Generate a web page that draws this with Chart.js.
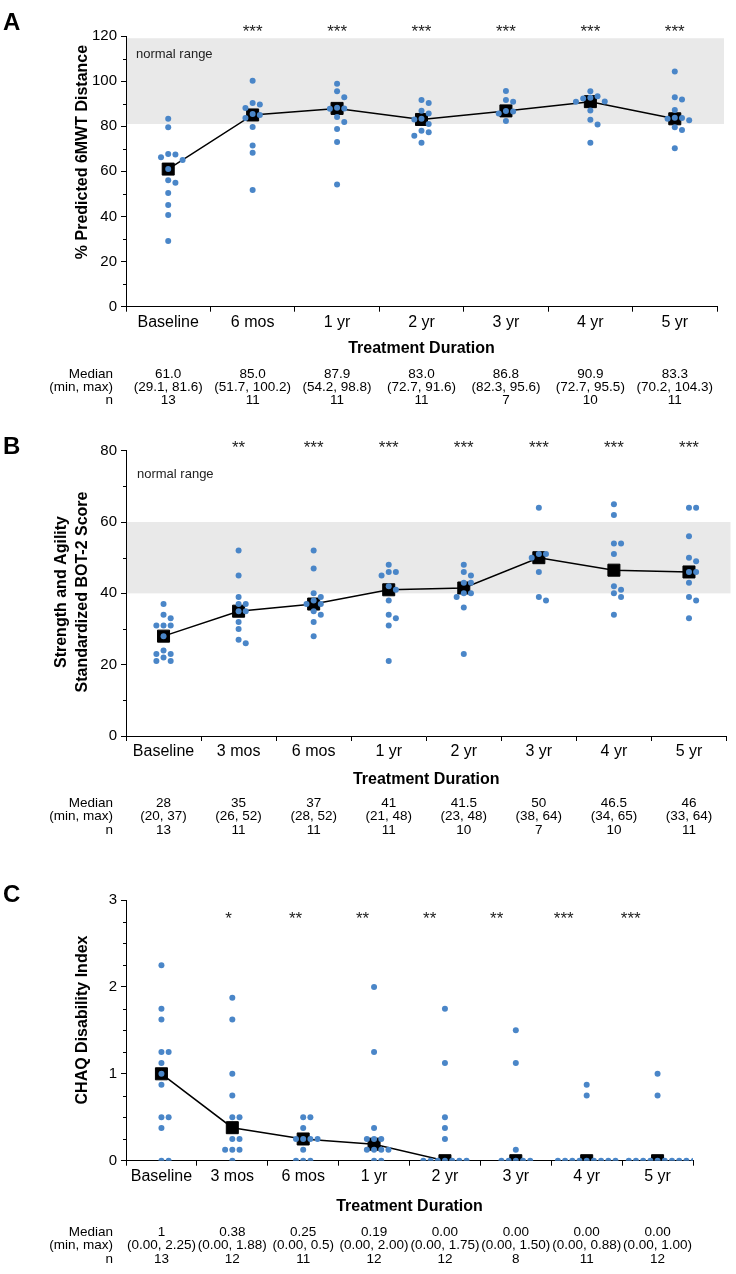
<!DOCTYPE html>
<html>
<head>
<meta charset="utf-8">
<script src="https://cdn.jsdelivr.net/npm/chart.js@4.4.1/dist/chart.umd.min.js"></script>
<style>
html,body{margin:0;padding:0;background:#fff;}
#wrap{position:relative;width:736px;height:1274px;overflow:hidden;background:#fff;}
canvas{position:absolute;left:0;}
</style>
</head>
<body>
<div id="wrap">
<canvas id="cA" width="736" height="420" style="top:0px"></canvas>
<canvas id="cB" width="736" height="430" style="top:420px"></canvas>
<canvas id="cC" width="736" height="424" style="top:850px"></canvas>
</div>
<script>
// ---------------- Panel A data ----------------
const catsA = ['Baseline', '6 mos', '1 yr', '2 yr', '3 yr', '4 yr', '5 yr'];
const aBaseline = [83.3, 79.5, 67.7, 67.5, 66.2, 65.0, 61.0, 56.0, 55.0, 50.4, 45.1, 40.6, 29.1];
const a6mos = [100.2, 90.3, 89.6, 88.1, 85.4, 85.0, 83.6, 79.7, 71.5, 68.3, 51.7];
const a1yr = [98.8, 95.5, 92.8, 88.2, 87.9, 87.8, 84.1, 81.9, 78.8, 73.0, 54.2];
const a2yr = [91.6, 90.3, 86.9, 85.7, 83.3, 83.0, 81.0, 78.0, 77.3, 75.8, 72.7];
const a3yr = [95.6, 91.6, 90.9, 86.8, 86.5, 85.7, 82.3];
const a4yr = [95.5, 93.3, 92.6, 92.3, 91.0, 90.8, 87.0, 82.9, 80.8, 72.7];
const a5yr = [104.3, 92.8, 91.9, 87.2, 83.8, 83.6, 83.3, 82.6, 79.5, 78.3, 70.2];
const starsA = ['', '***', '***', '***', '***', '***', '***'];
const medianTextA = ['61.0', '85.0', '87.9', '83.0', '86.8', '90.9', '83.3'];
const rangeTextA = ['(29.1, 81.6)', '(51.7, 100.2)', '(54.2, 98.8)', '(72.7, 91.6)', '(82.3, 95.6)', '(72.7, 95.5)', '(70.2, 104.3)'];
const nTextA = ['13', '11', '11', '11', '7', '10', '11'];
const yTicksA = [0, 20, 40, 60, 80, 100, 120];
const normalRangeA = [81, 119];

// ---------------- Panel B data ----------------
const catsB = ['Baseline', '3 mos', '6 mos', '1 yr', '2 yr', '3 yr', '4 yr', '5 yr'];
const bBaseline = [37, 34, 33, 31, 31, 31, 28, 24, 23, 23, 22, 21, 21];
const b3mos = [52, 45, 39, 37, 37, 35, 35, 32, 30, 27, 26];
const b6mos = [52, 47, 40, 39, 38, 37, 37, 35, 34, 32, 28];
const b1yr = [48, 46, 46, 45, 42, 41, 38, 34, 33, 31, 21];
const b2yr = [48, 46, 45, 43, 43, 40, 40, 39, 36, 23];
const b3yr = [64, 51, 51, 50, 46, 39, 38];
const b4yr = [65, 62, 54, 54, 51, 42, 41, 40, 39, 34];
const b5yr = [64, 64, 56, 50, 49, 46, 46, 43, 39, 38, 33];
const starsB = ['', '**', '***', '***', '***', '***', '***', '***'];
const medianTextB = ['28', '35', '37', '41', '41.5', '50', '46.5', '46'];
const rangeTextB = ['(20, 37)', '(26, 52)', '(28, 52)', '(21, 48)', '(23, 48)', '(38, 64)', '(34, 65)', '(33, 64)'];
const nTextB = ['13', '11', '11', '11', '10', '7', '10', '11'];
const yTicksB = [0, 20, 40, 60, 80];
const normalRangeB = [40, 60];

// ---------------- Panel C data ----------------
const catsC = ['Baseline', '3 mos', '6 mos', '1 yr', '2 yr', '3 yr', '4 yr', '5 yr'];
const cBaseline = [2.25, 1.75, 1.625, 1.25, 1.25, 1.125, 1.0, 0.875, 0.5, 0.5, 0.375, 0, 0];
const c3mos = [1.875, 1.625, 1.0, 0.75, 0.5, 0.5, 0.25, 0.25, 0.125, 0.125, 0.125, 0];
const c6mos = [0.5, 0.5, 0.375, 0.25, 0.25, 0.25, 0.25, 0.125, 0, 0, 0];
const c1yr = [2.0, 1.25, 0.375, 0.25, 0.25, 0.25, 0.125, 0.125, 0.125, 0.125, 0, 0];
const c2yr = [1.75, 1.125, 0.5, 0.375, 0.25, 0, 0, 0, 0, 0, 0, 0];
const c3yr = [1.5, 1.125, 0.125, 0, 0, 0, 0, 0];
const c4yr = [0.875, 0.75, 0, 0, 0, 0, 0, 0, 0, 0, 0];
const c5yr = [1.0, 0.75, 0, 0, 0, 0, 0, 0, 0, 0, 0, 0];
const starsC = ['', '*', '**', '**', '**', '**', '***', '***'];
const medianTextC = ['1', '0.38', '0.25', '0.19', '0.00', '0.00', '0.00', '0.00'];
const rangeTextC = ['(0.00, 2.25)', '(0.00, 1.88)', '(0.00, 0.5)', '(0.00, 2.00)', '(0.00, 1.75)', '(0.00, 1.50)', '(0.00, 0.88)', '(0.00, 1.00)'];
const nTextC = ['13', '12', '11', '12', '12', '8', '11', '12'];
const yTicksC = [0, 1, 2, 3];

// ---------------- styling ----------------
const FONT = "'Liberation Sans', Arial, Helvetica, sans-serif";
const BLUE = '#4a86c8';
const BAND = '#e9e9e9';
Chart.defaults.font.family = FONT;
Chart.defaults.color = '#000';

// beeswarm placement of dots within a category (computed in pixel space)
function swarm(values, idx, pxPerY, pxPerX) {
  const SP = 7.2, D = 6.2;
  const placed = [];
  const order = values.map((v, i) => i).sort((a, b) => values[b] - values[a]);
  const pts = [];
  for (const i of order) {
    const py = values[i] * pxPerY;
    let slot = 0;
    for (let s = 0; s < 80; s++) {
      const c = s === 0 ? 0 : (s % 2 ? (s + 1) / 2 : -s / 2);
      const px = c * SP;
      if (placed.every(p => Math.hypot(p.px - px, p.py - py) >= D)) { slot = c; break; }
    }
    placed.push({ px: slot * SP, py });
    pts.push({ x: idx + slot * SP / pxPerX, y: values[i] });
  }
  return pts;
}

function centerText(ctx, text, x, yc) {
  ctx.textBaseline = 'alphabetic';
  const m = ctx.measureText(text);
  const asc = m.actualBoundingBoxAscent, desc = m.actualBoundingBoxDescent;
  ctx.fillText(text, x, yc + (asc - desc) / 2);
}

const extrasPlugin = {
  id: 'extras',
  beforeDatasetsDraw(chart, args, o) {
    const { ctx, chartArea: ca, scales } = chart;
    if (o.band) {
      const yTop = scales.y.getPixelForValue(o.band[1]);
      const yBot = scales.y.getPixelForValue(o.band[0]);
      ctx.save();
      ctx.fillStyle = BAND;
      ctx.fillRect(ca.left + 1, yTop, ca.right + o.bandExt - ca.left - 1, yBot - yTop);
      ctx.restore();
    }
  },
  afterDraw(chart, args, o) {
    const { ctx, chartArea: ca, scales } = chart;
    const ys = scales.y, xl = scales.xl;
    ctx.save();
    // minor ticks
    ctx.strokeStyle = '#000';
    ctx.lineWidth = 1;
    ys.ticks.forEach(t => {
      if (!o.isMajor(t.value)) {
        const py = Math.round(ys.getPixelForValue(t.value)) + 0.5;
        ctx.beginPath();
        ctx.moveTo(ca.left - 3, py);
        ctx.lineTo(ca.left, py);
        ctx.stroke();
      }
    });
    ctx.fillStyle = '#000';
    // panel letter
    ctx.font = 'bold 24px ' + FONT;
    ctx.textAlign = 'left';
    centerText(ctx, o.letter, 3, o.letterY);
    // y axis title
    ctx.font = 'bold 16px ' + FONT;
    ctx.textAlign = 'center';
    o.yTitle.forEach((line, k) => {
      ctx.save();
      ctx.translate(o.yTitleX + k * o.yTitleLH, o.yTitleY);
      ctx.rotate(-Math.PI / 2);
      ctx.textBaseline = 'middle';
      ctx.fillText(line, 0, 0);
      ctx.restore();
    });
    // normal range label
    if (o.bandLabel) {
      ctx.font = '13px ' + FONT;
      ctx.textAlign = 'left';
      ctx.fillStyle = '#222';
      ctx.textBaseline = 'middle';
      ctx.fillText(o.bandLabel, o.bandLabelX, o.bandLabelY);
    }
    // significance stars
    ctx.fillStyle = '#222';
    ctx.font = '17px ' + FONT;
    ctx.textAlign = 'center';
    o.stars.forEach((s, i) => {
      if (!s) return;
      centerText(ctx, s, xl.getPixelForValue(i * o.starsSpread), o.starsY);
    });
    // summary table
    ctx.fillStyle = '#000';
    ctx.font = '13.5px ' + FONT;
    ctx.textBaseline = 'middle';
    o.table.labels.forEach((lab, r) => {
      ctx.textAlign = 'right';
      ctx.fillText(lab, o.table.labelX, o.table.ys[r]);
      ctx.textAlign = 'center';
      o.table.rows[r].forEach((txt, i) => {
        ctx.fillText(txt, xl.getPixelForValue(i), o.table.ys[r]);
      });
    });
    ctx.restore();
  }
};

function buildPanel(canvasId, cfg) {
  const n = cfg.cats.length;
  const g = cfg.geom;
  const yMin = cfg.yTicks[0], yMax = cfg.yTicks[cfg.yTicks.length - 1];
  const major = cfg.yTicks[1] - cfg.yTicks[0];
  const isMajor = v => Math.abs(v / major - Math.round(v / major)) < 1e-6;
  const pxPerY = (g.bottom - g.top) / (yMax - yMin);
  const pxPerX = (g.right - g.left) / n;
  const dots = [];
  cfg.values.forEach((vals, i) => dots.push(...swarm(vals, i, pxPerY, pxPerX)));
  const medians = cfg.medianText.map(Number);
  const extras = Object.assign({}, cfg.extras, { isMajor });

  new Chart(document.getElementById(canvasId), {
    data: {
      datasets: [
        { type: 'scatter', data: dots, xAxisID: 'xl', yAxisID: 'y', order: 0,
          pointRadius: 3, pointBackgroundColor: BLUE, pointBorderWidth: 0, pointBorderColor: BLUE, showLine: false },
        { type: 'line', data: medians.map((m, i) => ({ x: i, y: m })), xAxisID: 'xl', yAxisID: 'y', order: 1,
          borderColor: '#000', borderWidth: 1.5, tension: 0, fill: false,
          pointStyle: 'rect', pointRadius: 8.5, pointBackgroundColor: '#000', pointBorderColor: '#000', pointBorderWidth: 1 }
      ]
    },
    options: {
      responsive: false,
      animation: false,
      events: [],
      layout: { padding: { left: 0, top: g.top, right: 736 - g.right, bottom: g.h - g.bottom - g.xAxisH } },
      plugins: { legend: { display: false }, tooltip: { enabled: false }, extras },
      scales: {
        x: {
          type: 'category', labels: cfg.cats, offset: true, position: 'bottom',
          grid: { offset: true, drawOnChartArea: false, drawTicks: true, tickLength: 5, color: '#000', lineWidth: 1 },
          border: { display: true, color: '#000', width: 1 },
          ticks: { font: { size: 16 }, color: '#000', padding: 1, maxRotation: 0, autoSkip: false },
          title: { display: true, text: 'Treatment Duration', font: { size: 16, weight: 'bold' }, color: '#000', padding: { top: 0, bottom: 0 } },
          afterFit: s => { s.height = g.xAxisH; }
        },
        xl: { type: 'linear', display: false, min: -0.5, max: n - 0.5 },
        y: {
          type: 'linear', position: 'left', min: yMin, max: yMax,
          grid: { drawOnChartArea: false, drawTicks: true, tickLength: 5, color: '#000',
                  tickColor: c => (c.tick && isMajor(c.tick.value)) ? '#000' : 'rgba(0,0,0,0)' },
          border: { display: true, color: '#000', width: 1 },
          ticks: { stepSize: cfg.minorStep, font: { size: 15 }, color: '#000', padding: 4, autoSkip: false,
                   callback: v => isMajor(v) ? String(v) : '' },
          afterFit: s => { s.width = g.left; }
        }
      }
    },
    plugins: [extrasPlugin]
  });
}

buildPanel('cA', {
  cats: catsA,
  values: [aBaseline, a6mos, a1yr, a2yr, a3yr, a4yr, a5yr],
  medianText: medianTextA,
  yTicks: yTicksA, minorStep: 10,
  geom: { h: 420, top: 36, bottom: 306.7, left: 126, right: 717, xAxisH: 51 },
  extras: {
    letter: 'A', letterY: 21,
    yTitle: ['% Predicted 6MWT Distance'], yTitleX: 83, yTitleY: 152, yTitleLH: 21,
    band: normalRangeA, bandExt: 7, bandLabel: 'normal range', bandLabelX: 136, bandLabelY: 54,
    stars: starsA, starsY: 28, starsSpread: 1,
    table: { labels: ['Median', '(min, max)', 'n'], rows: [medianTextA, rangeTextA, nTextA], ys: [374, 387, 400], labelX: 113 }
  }
});

buildPanel('cB', {
  cats: catsB,
  values: [bBaseline, b3mos, b6mos, b1yr, b2yr, b3yr, b4yr, b5yr],
  medianText: medianTextB,
  yTicks: yTicksB, minorStep: 10,
  geom: { h: 430, top: 30.7, bottom: 316, left: 126, right: 731, xAxisH: 53 },
  extras: {
    letter: 'B', letterY: 25,
    yTitle: ['Strength and Agility', 'Standardized BOT-2 Score'], yTitleX: 62, yTitleY: 172, yTitleLH: 21,
    band: normalRangeB, bandExt: 4, bandLabel: 'normal range', bandLabelX: 137, bandLabelY: 54,
    stars: starsB, starsY: 24, starsSpread: 1,
    table: { labels: ['Median', '(min, max)', 'n'], rows: [medianTextB, rangeTextB, nTextB], ys: [383, 396, 410], labelX: 113 }
  }
});

buildPanel('cC', {
  cats: catsC,
  values: [cBaseline, c3mos, c6mos, c1yr, c2yr, c3yr, c4yr, c5yr],
  medianText: medianTextC,
  yTicks: yTicksC, minorStep: 0.25,
  geom: { h: 424, top: 50, bottom: 310.7, left: 126, right: 693, xAxisH: 55 },
  extras: {
    letter: 'C', letterY: 43,
    yTitle: ['CHAQ Disability Index'], yTitleX: 83, yTitleY: 170, yTitleLH: 21,
    band: null, bandExt: 0, bandLabel: null,
    stars: starsC, starsY: 65, starsSpread: 0.946,
    table: { labels: ['Median', '(min, max)', 'n'], rows: [medianTextC, rangeTextC, nTextC], ys: [382, 395, 409], labelX: 113 }
  }
});
</script>
</body>
</html>
